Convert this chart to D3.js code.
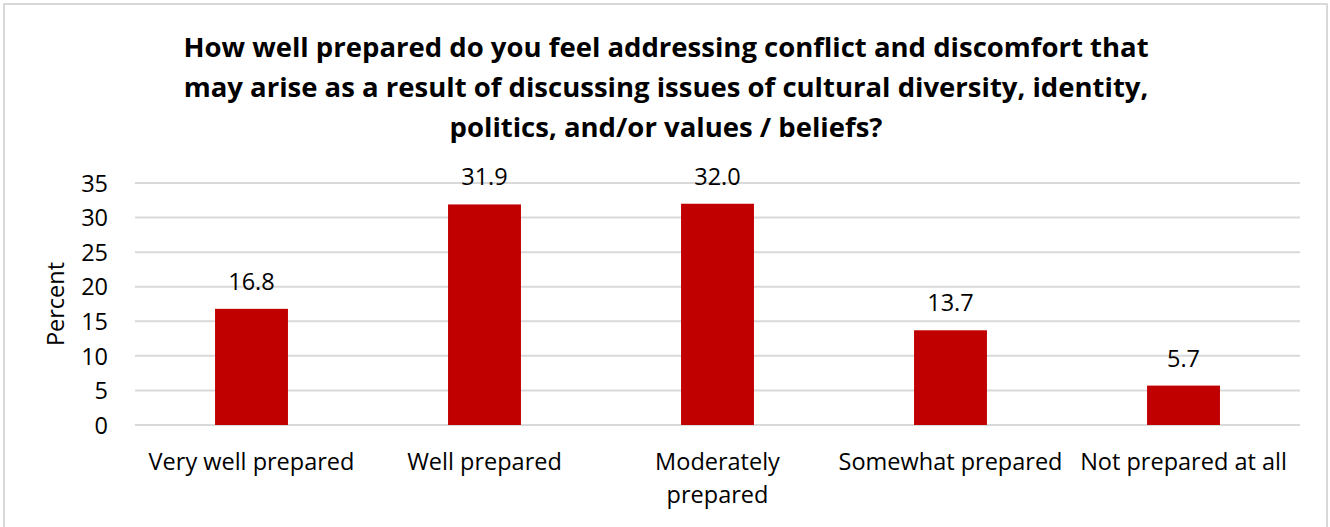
<!DOCTYPE html>
<html><head><meta charset="utf-8">
<script src="https://cdn.jsdelivr.net/npm/d3@7"></script>
<style>body{margin:0;background:#fff}svg{display:block}text{font-family:"Open Sans",sans-serif;fill:#000}</style>
</head><body>
<script>
const categories = ["Very well prepared","Well prepared","Moderately prepared","Somewhat prepared","Not prepared at all"];
const values = [16.8, 31.9, 32.0, 13.7, 5.7];
const yTicks = [0,5,10,15,20,25,30,35];
const titleLines = ["How well prepared do you feel addressing conflict and discomfort that","may arise as a result of discussing issues of cultural diversity, identity,","politics, and/or values / beliefs?"];
const yLabel = "Percent";

const FONT = "'Open Sans',sans-serif";
const FS = "23.5px";
const W = 1330, H = 527;
const svg = d3.select("body").append("svg").attr("width", W).attr("height", H);
svg.append("rect").attr("x",4).attr("y",4).attr("width",1323).attr("height",H+10)
  .attr("fill","#fff").attr("stroke","#d9d9d9").attr("stroke-width",2);

const m = {left:135, right:1300, top:183, bottom:425};
const x = d3.scaleBand().domain(categories).range([m.left, m.right]).paddingInner(0.687).paddingOuter(0.3435);
const y = d3.scaleLinear().domain([0,35]).range([m.bottom, m.top]);

// grid
svg.append("g").selectAll("line").data(yTicks).join("line")
  .attr("x1", m.left).attr("x2", m.right)
  .attr("y1", d=>y(d)).attr("y2", d=>y(d))
  .attr("stroke","#d9d9d9").attr("stroke-width",2);

// y axis labels
const yAxis = d3.axisLeft(y).tickValues(yTicks).tickSize(0).tickPadding(0);
const ga = svg.append("g").attr("transform",`translate(${m.left-27},0)`).call(yAxis);
ga.select(".domain").remove();
ga.selectAll("text").style("font-size",FS).style("font-family",FONT).attr("fill","#000").attr("dy","0.35em");

// bars
svg.append("g").selectAll("rect").data(values).join("rect")
  .attr("x",(d,i)=>x(categories[i])).attr("width",x.bandwidth())
  .attr("y",d=>y(d)).attr("height",d=>y(0)-y(d)).attr("fill","#c00000");

// value labels
svg.append("g").selectAll("text").data(values).join("text")
  .attr("x",(d,i)=>x(categories[i])+x.bandwidth()/2).attr("y",d=>y(d)-19)
  .attr("text-anchor","middle").style("font-size",FS).text(d=>d.toFixed(1));

// category labels with wrapping
const xAxis = d3.axisBottom(x).tickSize(0).tickPadding(0);
const gx = svg.append("g").attr("transform",`translate(0,${m.bottom})`).call(xAxis);
gx.select(".domain").remove();
gx.selectAll("text").each(function(d){
  const t = d3.select(this);
  t.text(null).attr("y",0).attr("dy",null).style("font-size",FS).style("font-family",FONT).attr("fill","#000");
  const lines = d==="Moderately prepared" ? ["Moderately","prepared"] : [d];
  lines.forEach((l,i)=>t.append("tspan").attr("x",0).attr("y",45+i*33).text(l));
});

// y label
svg.append("text").attr("transform",`translate(64,${(m.top+m.bottom)/2}) rotate(-90)`)
  .attr("text-anchor","middle").style("font-size",FS).text(yLabel);

// title
svg.append("g").selectAll("text").data(titleLines).join("text")
  .attr("x",666).attr("y",(d,i)=>57+i*40).attr("text-anchor","middle")
  .style("font-size","27.5px").style("font-weight","bold").text(d=>d);
</script>
</body></html>
